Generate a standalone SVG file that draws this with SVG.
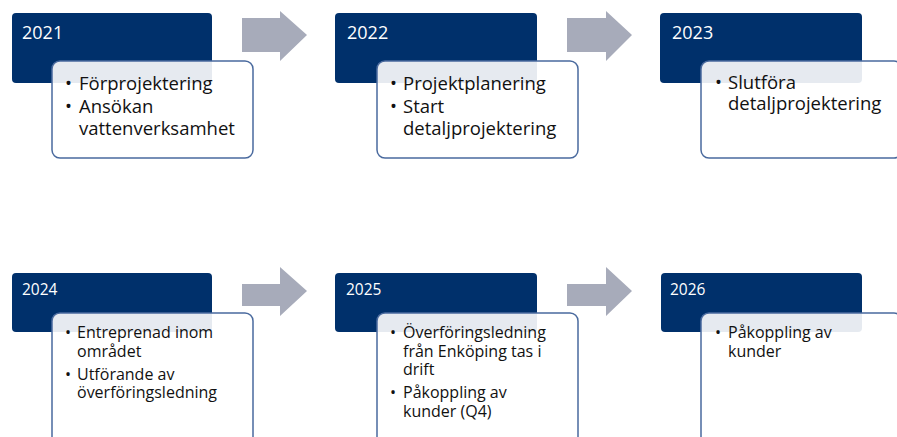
<svg xmlns="http://www.w3.org/2000/svg" width="897" height="437" viewBox="0 0 897 437">
<style>
.yr{fill:#00306b}
.card{fill:#ffffff;fill-opacity:0.9;stroke:#4a6a9e;stroke-width:1.5}
.arr{fill:#a7abba}
.yt{font-family:"Open Sans","Noto Sans",sans-serif;fill:#ffffff}
.bt{font-family:"Open Sans","Noto Sans",sans-serif;fill:#111111}
.t1{font-size:18px}
.t2{font-size:15.5px}
.b1{font-size:18.5px}
.b2{font-size:16px}
</style>
<rect width="897" height="437" fill="#ffffff"/>
<g id="connectors">
<polygon class="arr" points="242,18 280,18 280,11 307,35 280,61 280,52 242,52"/>
<polygon class="arr" points="567,18 606,18 606,11 632,35 606,61 606,52 567,52"/>
<polygon class="arr" points="242,284 280,284 280,267 307,291 280,316 280,306 242,306"/>
<polygon class="arr" points="567,284 606,284 606,267 632,291 606,316 606,306 567,306"/>
</g>
<g id="n2021">
<rect class="yr" x="12" y="13" width="200" height="70" rx="4"/>
<text class="yt t1" x="22" y="39">2021</text>
<rect class="card" x="52" y="61" width="201" height="97" rx="8"/>
<text class="bt b1"><tspan x="65" y="90">•</tspan><tspan x="79" y="90">Förprojektering</tspan><tspan x="65" y="113">•</tspan><tspan x="79" y="113">Ansökan</tspan><tspan x="79" y="135">vattenverksamhet</tspan></text>
</g>
<g id="n2022">
<rect class="yr" x="335" y="13" width="202" height="70" rx="4"/>
<text class="yt t1" x="347" y="39">2022</text>
<rect class="card" x="377" y="61" width="201" height="97" rx="8"/>
<text class="bt b1"><tspan x="390" y="90">•</tspan><tspan x="403" y="90">Projektplanering</tspan><tspan x="390" y="113">•</tspan><tspan x="403" y="113">Start</tspan><tspan x="403" y="135">detaljprojektering</tspan></text>
</g>
<g id="n2023">
<rect class="yr" x="660" y="13" width="202" height="70" rx="4"/>
<text class="yt t1" x="672" y="39">2023</text>
<rect class="card" x="701" y="61" width="201" height="97" rx="8"/>
<text class="bt b1"><tspan x="715" y="89">•</tspan><tspan x="728" y="89">Slutföra</tspan><tspan x="728" y="110">detaljprojektering</tspan></text>
</g>
<g id="n2024">
<rect class="yr" x="12" y="273" width="200" height="59" rx="4"/>
<text class="yt t2" x="22" y="295">2024</text>
<rect class="card" x="52" y="313" width="201" height="135" rx="8"/>
<text class="bt b2"><tspan x="65" y="338">•</tspan><tspan x="77" y="338">Entreprenad inom</tspan><tspan x="77" y="357">området</tspan><tspan x="65" y="380">•</tspan><tspan x="77" y="380">Utförande av</tspan><tspan x="77" y="398">överföringsledning</tspan></text>
</g>
<g id="n2025">
<rect class="yr" x="335" y="273" width="202" height="59" rx="4"/>
<text class="yt t2" x="346" y="295">2025</text>
<rect class="card" x="377" y="313" width="201" height="135" rx="8"/>
<text class="bt b2"><tspan x="390" y="338">•</tspan><tspan x="403" y="338">Överföringsledning</tspan><tspan x="403" y="357">från Enköping tas i</tspan><tspan x="403" y="375">drift</tspan><tspan x="390" y="398">•</tspan><tspan x="403" y="398">Påkoppling av</tspan><tspan x="403" y="417">kunder (Q4)</tspan></text>
</g>
<g id="n2026">
<rect class="yr" x="661" y="273" width="201" height="59" rx="4"/>
<text class="yt t2" x="670" y="295">2026</text>
<rect class="card" x="701" y="313" width="201" height="135" rx="8"/>
<text class="bt b2"><tspan x="715" y="338">•</tspan><tspan x="728" y="338">Påkoppling av</tspan><tspan x="728" y="357">kunder</tspan></text>
</g>
</svg>
